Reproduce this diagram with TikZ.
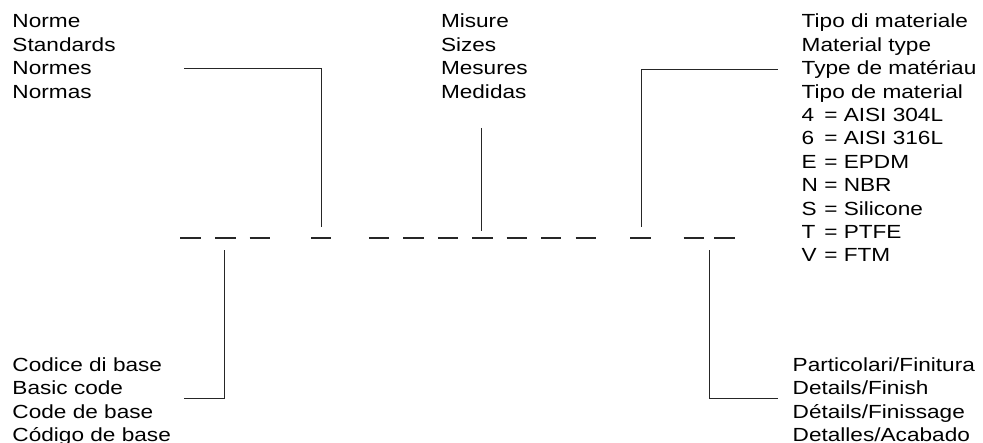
\documentclass[tikz,border=0pt]{standalone}
\usepackage{fontspec}
\setmainfont[FakeStretch=1.19]{Liberation Sans}
\newcommand{\eqcol}[1]{\rlap{#1}\phantom{N}}
\begin{document}
\begin{tikzpicture}[x=1pt,y=-1pt,
  every node/.style={inner sep=0pt,outer sep=0pt},
  txt/.style={anchor=base west,align=left,font=\fontsize{19}{23.4}\selectfont},
  wire/.style={line width=1.2pt,black!85},
  dashmark/.style={line width=1.2pt,black!85}]
\useasboundingbox (0,0) rectangle (983,443);
% text blocks (anchor = baseline of last line)
\node[txt] (nA) at (12.5,98.2) {Norme\\Standards\\Normes\\Normas};
\node[txt] (nB) at (441,98.2) {Misure\\Sizes\\Mesures\\Medidas};
\node[txt] (nC) at (801.7,262) {Tipo di materiale\\Material type\\Type de matériau\\Tipo de material\\
  \eqcol{4} = AISI 304L\\\eqcol{6} = AISI 316L\\\eqcol{E} = EPDM\\\eqcol{N} = NBR\\
  \eqcol{S} = Silicone\\\eqcol{T} = PTFE\\\eqcol{V} = FTM};
\node[txt] (nD) at (12.5,441.5) {Codice di base\\Basic code\\Code de base\\Código de base};
\node[txt] (nE) at (792.7,441.5) {Particolari/Finitura\\Details/Finish\\Détails/Finissage\\Detalles/Acabado};
% dashes
\foreach \i/\x in {1/180.4,2/215.2,3/249.6,4/311,5/368.9,6/403.3,7/437.8,8/472.2,9/506.7,10/541.1,11/575.6,12/630.4,13/683.7,14/714.4}{
  \coordinate (d\i a) at (\x,238);
  \coordinate (d\i b) at (\x+20.3,238);
  \draw[dashmark] (d\i a) -- (d\i b);
}
% connector ends
\coordinate (cA) at (184,68.5);
\coordinate (tA) at (321.7,227);
\coordinate (cB) at (481.7,128);
\coordinate (tB) at (481.7,231);
\coordinate (cC) at (777.7,69.3);
\coordinate (tC) at (641.5,227);
\coordinate (cD) at (184,398.3);
\coordinate (tD) at (224.5,250);
\coordinate (cE) at (777.7,398.3);
\coordinate (tE) at (709.6,250);
\draw[wire] (cA) -| (tA);
\draw[wire] (cB) -- (tB);
\draw[wire] (cC) -| (tC);
\draw[wire] (cD) -| (tD);
\draw[wire] (cE) -| (tE);
\end{tikzpicture}
\end{document}
